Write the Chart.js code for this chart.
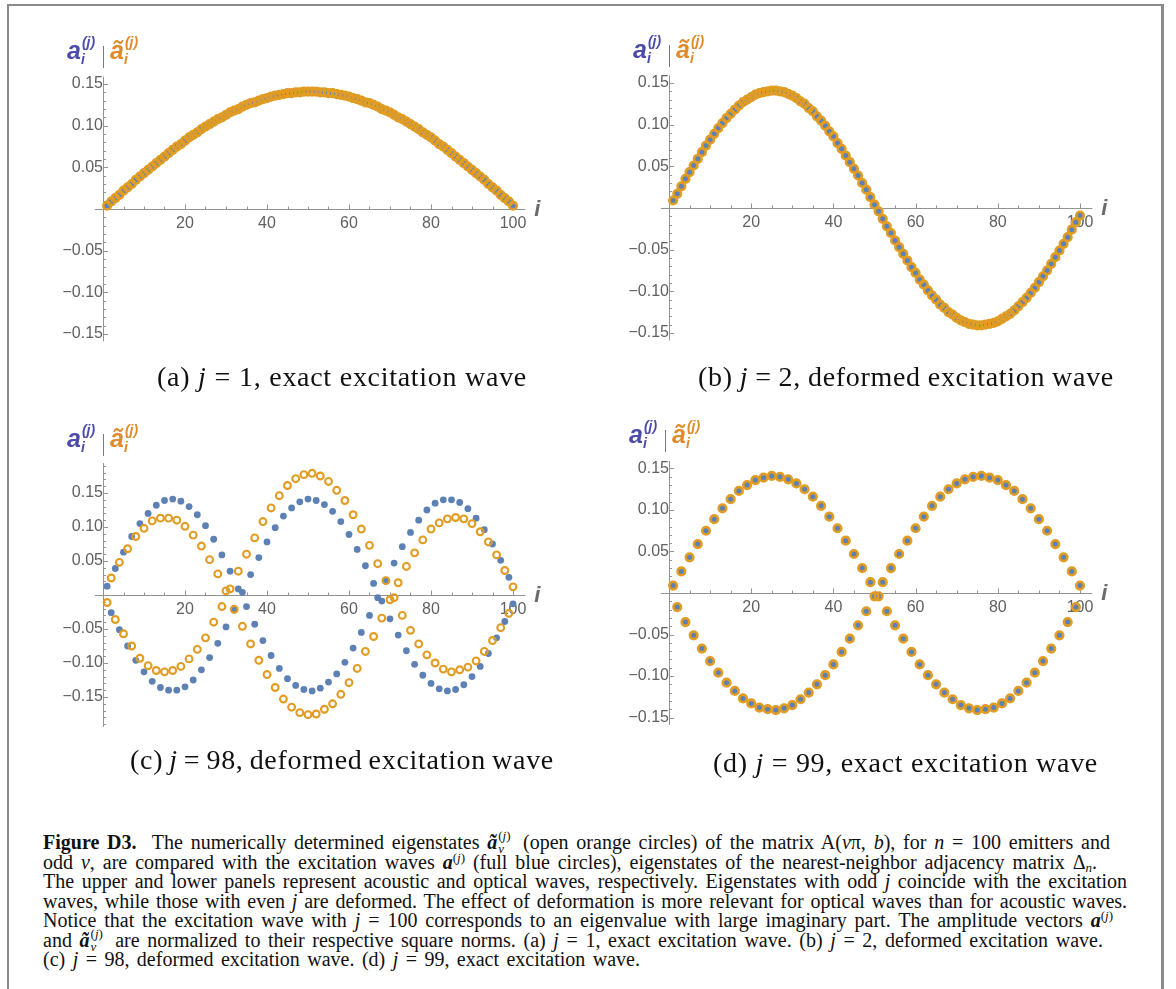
<!DOCTYPE html>
<html>
<head>
<meta charset="utf-8">
<script src="https://cdn.jsdelivr.net/npm/chart.js@4.4.1/dist/chart.umd.min.js"></script>
<style>
  html, body { margin: 0; padding: 0; background: #fff; }
  #fig { position: relative; width: 1176px; height: 989px; overflow: hidden; background: #fff; }
  #frame { position: absolute; left: 7px; top: 4px; width: 1152px; height: 1010px;
           border: 2px solid #8a8a8a; border-bottom: none; border-right-width: 3px; }
  canvas { position: absolute; }
  .hdr { position: absolute; height: 30px; width: 90px;
         font: bold italic 25px "Liberation Sans", Arial, sans-serif; line-height: 24px; white-space: nowrap; }
  .hdr .part { position: absolute; top: 0; }
  .hdr .blue { left: 0; color: #4b4bab; }
  .hdr .orng { left: 43px; color: #e08a2b; }
  .hdr .bar { position: absolute; left: 36px; top: 8px; width: 1px; height: 22px; background: #7a7a7a; }
  .scr { position: relative; display: inline-block; width: 15px; height: 0; }
  .scr span { position: absolute; left: 0; font-size: 14px; line-height: 14px; }
  .scr .up { bottom: 10px; left: 1px; }
  .scr .dn { bottom: -7px; }
  .fit { position: absolute; white-space: nowrap; color: #111; }
  .sub { font: 28px "Liberation Serif", "Times New Roman", serif; line-height: 30px; letter-spacing: 0.7px; }
  .cap { font: 20px "Liberation Serif", "Times New Roman", serif; line-height: 20px; }
  .cap sup, .cap sub { font-size: 13px; line-height: 0; }
  .cap sup { vertical-align: 7px; }
  .cap sub { vertical-align: -3px; }
  .ss { position: relative; display: inline-block; width: 18px; height: 0; }
  .ss span { position: absolute; left: 1px; font-size: 13px; line-height: 13px; }
  .ss .u { bottom: 7px; }
  .ss .d { bottom: -6px; }
</style>
</head>
<body>
<div id="fig">
  <div id="frame"></div>

  <canvas id="pa"></canvas>
  <canvas id="pb"></canvas>
  <canvas id="pc"></canvas>
  <canvas id="pd"></canvas>

  <div class="fit sub" data-x="157" data-w="370" style="top:362px"><span class="t">(a) <i>j</i> = 1, exact excitation wave</span></div>
  <div class="fit sub" data-x="698" data-w="416" style="top:362px"><span class="t">(b) <i>j</i> = 2, deformed excitation wave</span></div>
  <div class="fit sub" data-x="130" data-w="424" style="top:745px"><span class="t">(c) <i>j</i> = 98, deformed excitation wave</span></div>
  <div class="fit sub" data-x="713" data-w="385" style="top:748px"><span class="t">(d) <i>j</i> = 99, exact excitation wave</span></div>

  <div class="fit cap" data-x="43" data-w="1067" style="top:832px"><span class="t"><b>Figure D3.</b>&nbsp; The numerically determined eigenstates <b><i>ã</i></b><span class="ss"><span class="u">(<i>j</i>)</span><span class="d"><i>ν</i></span></span> (open orange circles) of the matrix A(<i>ν</i>π, <i>b</i>), for <i>n</i> = 100 emitters and</span></div>
  <div class="fit cap" data-x="43" data-w="1054" style="top:852px"><span class="t">odd <i>ν</i>, are compared with the excitation waves <b><i>a</i></b><sup>(<i>j</i>)</sup> (full blue circles), eigenstates of the nearest-neighbor adjacency matrix Δ<sub><i>n</i></sub>.</span></div>
  <div class="fit cap" data-x="43" data-w="1084" style="top:871px"><span class="t">The upper and lower panels represent acoustic and optical waves, respectively. Eigenstates with odd <i>j</i> coincide with the excitation</span></div>
  <div class="fit cap" data-x="43" data-w="1084" style="top:891px"><span class="t">waves, while those with even <i>j</i> are deformed. The effect of deformation is more relevant for optical waves than for acoustic waves.</span></div>
  <div class="fit cap" data-x="43" data-w="1070" style="top:910px"><span class="t">Notice that the excitation wave with <i>j</i> = 100 corresponds to an eigenvalue with large imaginary part. The amplitude vectors <b><i>a</i></b><sup>(<i>j</i>)</sup></span></div>
  <div class="fit cap" data-x="43" data-w="1060" style="top:930px"><span class="t">and <b><i>ã</i></b><span class="ss"><span class="u">(<i>j</i>)</span><span class="d"><i>ν</i></span></span> are normalized to their respective square norms. (a) <i>j</i> = 1, exact excitation wave. (b) <i>j</i> = 2, deformed excitation wave.</span></div>
  <div class="fit cap" data-x="43" data-w="597" style="top:949px"><span class="t">(c) <i>j</i> = 98, deformed excitation wave. (d) <i>j</i> = 99, exact excitation wave.</span></div>
</div>

<script>
// site index i = 1..100
const sites = [
  1, 2, 3, 4, 5, 6, 7, 8, 9, 10, 11, 12, 13, 14, 15, 16, 17, 18, 19, 20,
  21, 22, 23, 24, 25, 26, 27, 28, 29, 30, 31, 32, 33, 34, 35, 36, 37, 38, 39, 40,
  41, 42, 43, 44, 45, 46, 47, 48, 49, 50, 51, 52, 53, 54, 55, 56, 57, 58, 59, 60,
  61, 62, 63, 64, 65, 66, 67, 68, 69, 70, 71, 72, 73, 74, 75, 76, 77, 78, 79, 80,
  81, 82, 83, 84, 85, 86, 87, 88, 89, 90, 91, 92, 93, 94, 95, 96, 97, 98, 99, 100
];

// j = 1 (acoustic, exact: both sets coincide)
const waveJ1 = [
  0.004, 0.009, 0.013, 0.017, 0.022, 0.026, 0.030, 0.035, 0.039, 0.043,
  0.047, 0.051, 0.055, 0.059, 0.063, 0.067, 0.071, 0.075, 0.078, 0.082,
  0.086, 0.089, 0.092, 0.096, 0.099, 0.102, 0.105, 0.108, 0.110, 0.113,
  0.116, 0.118, 0.120, 0.123, 0.125, 0.127, 0.128, 0.130, 0.132, 0.133,
  0.135, 0.136, 0.137, 0.138, 0.139, 0.139, 0.140, 0.140, 0.141, 0.141,
  0.141, 0.141, 0.140, 0.140, 0.139, 0.139, 0.138, 0.137, 0.136, 0.135,
  0.133, 0.132, 0.130, 0.128, 0.127, 0.125, 0.123, 0.120, 0.118, 0.116,
  0.113, 0.110, 0.108, 0.105, 0.102, 0.099, 0.096, 0.092, 0.089, 0.086,
  0.082, 0.078, 0.075, 0.071, 0.067, 0.063, 0.059, 0.055, 0.051, 0.047,
  0.043, 0.039, 0.035, 0.030, 0.026, 0.022, 0.017, 0.013, 0.009, 0.004
];

// j = 2 (acoustic)
const waveJ2 = [
  0.009, 0.017, 0.026, 0.035, 0.043, 0.051, 0.059, 0.067, 0.075, 0.082,
  0.089, 0.096, 0.102, 0.108, 0.113, 0.118, 0.123, 0.127, 0.130, 0.133,
  0.136, 0.138, 0.139, 0.140, 0.141, 0.141, 0.140, 0.139, 0.137, 0.135,
  0.132, 0.128, 0.125, 0.120, 0.116, 0.110, 0.105, 0.099, 0.092, 0.086,
  0.078, 0.071, 0.063, 0.055, 0.047, 0.039, 0.030, 0.022, 0.013, 0.004,
  -0.004, -0.013, -0.022, -0.030, -0.039, -0.047, -0.055, -0.063, -0.071, -0.078,
  -0.086, -0.092, -0.099, -0.105, -0.110, -0.116, -0.120, -0.125, -0.128, -0.132,
  -0.135, -0.137, -0.139, -0.140, -0.141, -0.141, -0.140, -0.139, -0.138, -0.136,
  -0.133, -0.130, -0.127, -0.123, -0.118, -0.113, -0.108, -0.102, -0.096, -0.089,
  -0.082, -0.075, -0.067, -0.059, -0.051, -0.043, -0.035, -0.026, -0.017, -0.009
];

// j = 98 (optical): excitation wave and deformed eigenstate
const waveJ98 = [
  0.013, -0.026, 0.039, -0.051, 0.063, -0.075, 0.086, -0.096, 0.105, -0.113,
  0.120, -0.127, 0.132, -0.136, 0.139, -0.140, 0.141, -0.140, 0.138, -0.135,
  0.130, -0.125, 0.118, -0.110, 0.102, -0.092, 0.082, -0.071, 0.059, -0.047,
  0.035, -0.022, 0.009, 0.004, -0.017, 0.030, -0.043, 0.055, -0.067, 0.078,
  -0.089, 0.099, -0.108, 0.116, -0.123, 0.128, -0.133, 0.137, -0.139, 0.141,
  -0.141, 0.139, -0.137, 0.133, -0.128, 0.123, -0.116, 0.108, -0.099, 0.089,
  -0.078, 0.067, -0.055, 0.043, -0.030, 0.017, -0.004, -0.009, 0.022, -0.035,
  0.047, -0.059, 0.071, -0.082, 0.092, -0.102, 0.110, -0.118, 0.125, -0.130,
  0.135, -0.138, 0.140, -0.141, 0.140, -0.139, 0.136, -0.132, 0.127, -0.120,
  0.113, -0.105, 0.096, -0.086, 0.075, -0.063, 0.051, -0.039, 0.026, -0.013
];
const eigenJ98 = [
  -0.011, 0.025, -0.036, 0.048, -0.057, 0.068, -0.075, 0.086, -0.093, 0.098,
  -0.104, 0.109, -0.111, 0.113, -0.113, 0.113, -0.111, 0.110, -0.105, 0.101,
  -0.094, 0.088, -0.080, 0.072, -0.063, 0.052, -0.040, 0.031, -0.017, 0.006,
  0.009, -0.021, 0.035, -0.046, 0.060, -0.072, 0.084, -0.096, 0.108, -0.117,
  0.128, -0.136, 0.146, -0.153, 0.161, -0.165, 0.171, -0.173, 0.177, -0.176,
  0.179, -0.175, 0.175, -0.168, 0.167, -0.160, 0.154, -0.146, 0.139, -0.129,
  0.118, -0.108, 0.097, -0.083, 0.073, -0.061, 0.046, -0.034, 0.021, -0.007,
  -0.004, 0.018, -0.030, 0.042, -0.052, 0.062, -0.072, 0.081, -0.088, 0.097,
  -0.100, 0.106, -0.109, 0.112, -0.113, 0.114, -0.110, 0.112, -0.106, 0.105,
  -0.097, 0.093, -0.083, 0.078, -0.067, 0.059, -0.048, 0.036, -0.027, 0.012
];

// j = 99 (optical, exact: both sets coincide)
const waveJ99 = [
  0.009, -0.017, 0.026, -0.035, 0.043, -0.051, 0.059, -0.067, 0.075, -0.082,
  0.089, -0.096, 0.102, -0.108, 0.113, -0.118, 0.123, -0.127, 0.130, -0.133,
  0.136, -0.138, 0.139, -0.140, 0.141, -0.141, 0.140, -0.139, 0.137, -0.135,
  0.132, -0.128, 0.125, -0.120, 0.116, -0.110, 0.105, -0.099, 0.092, -0.086,
  0.078, -0.071, 0.063, -0.055, 0.047, -0.039, 0.030, -0.022, 0.013, -0.004,
  -0.004, 0.013, -0.022, 0.030, -0.039, 0.047, -0.055, 0.063, -0.071, 0.078,
  -0.086, 0.092, -0.099, 0.105, -0.110, 0.116, -0.120, 0.125, -0.128, 0.132,
  -0.135, 0.137, -0.139, 0.140, -0.141, 0.141, -0.140, 0.139, -0.138, 0.136,
  -0.133, 0.130, -0.127, 0.123, -0.118, 0.113, -0.108, 0.102, -0.096, 0.089,
  -0.082, 0.075, -0.067, 0.059, -0.051, 0.043, -0.035, 0.026, -0.017, 0.009
];

const xTicks = [20, 40, 60, 80, 100];
const yTicks = [-0.15, -0.10, -0.05, 0.05, 0.10, 0.15];

const BLUE = '#5e81b5';
const ORANGE = '#e19c24';
const AXIS = '#939393';

// axes crossing at the origin, with minor ticks and the "i" label
const crossAxes = {
  id: 'crossAxes',
  beforeDatasetsDraw(chart, args, opts) {
    const { ctx, chartArea: a, scales: { x, y } } = chart;
    const x0 = Math.round(x.getPixelForValue(0)) + 0.5;
    const y0 = Math.round(y.getPixelForValue(0)) + 0.5;
    ctx.save();
    ctx.strokeStyle = AXIS;
    ctx.lineWidth = 1;
    ctx.beginPath();
    ctx.moveTo(a.left, y0); ctx.lineTo(a.right, y0);
    ctx.moveTo(x0, a.top); ctx.lineTo(x0, a.bottom);
    for (let v = 5; v <= 100; v += 5) {
      const px = Math.round(x.getPixelForValue(v)) + 0.5;
      ctx.moveTo(px, y0); ctx.lineTo(px, y0 - (v % 20 === 0 ? 5 : 3));
    }
    for (let k = -opts.tickMax; k <= opts.tickMax; k++) {
      if (k === 0) continue;
      const py = Math.round(y.getPixelForValue(k / 100)) + 0.5;
      ctx.moveTo(x0, py); ctx.lineTo(x0 + (k % 5 === 0 ? 4.5 : 2.5), py);
    }
    ctx.stroke();
    ctx.fillStyle = '#6b6b6b';
    ctx.font = 'italic bold 22px "Liberation Sans", Arial, sans-serif';
    ctx.textBaseline = 'middle';
    ctx.fillText('i', a.right + 9, y0);
    ctx.restore();
  }
};

function points(values) {
  return sites.map((s, k) => ({ x: s, y: values[k] }));
}

function makePanel(p) {
  const xMin = -2, xMax = 103;
  const caL = p.ox + xMin * p.sx, caR = p.ox + xMax * p.sx;
  const caT = p.oy - p.ylim * p.sy, caB = p.oy + p.ylim * p.sy;
  const left = Math.round(caL - 45), top = Math.round(caT - 40);
  const width = Math.ceil(caR + 60 - left), height = Math.ceil(caB + 40 - top);
  const cv = document.getElementById(p.id);
  cv.width = width; cv.height = height;
  cv.style.left = left + 'px'; cv.style.top = top + 'px';

  const tickFont = { family: '"Liberation Sans", Arial, sans-serif', size: 16 };
  return new Chart(cv.getContext('2d'), {
    type: 'scatter',
    data: {
      datasets: [
        {
          label: 'eigenstate',
          data: points(p.orange),
          pointRadius: p.ring[0],
          pointBorderWidth: p.ring[1],
          pointBorderColor: ORANGE,
          pointBackgroundColor: 'rgba(0,0,0,0)'
        },
        {
          label: 'excitation wave',
          data: points(p.blue),
          pointRadius: 3.4,
          pointBorderWidth: 0,
          pointBackgroundColor: BLUE
        }
      ]
    },
    options: {
      responsive: false,
      animation: false,
      events: [],
      layout: { padding: { left: caL - left, right: left + width - caR, top: caT - top, bottom: top + height - caB } },
      plugins: {
        legend: { display: false },
        tooltip: { enabled: false },
        crossAxes: { tickMax: p.tickMax }
      },
      scales: {
        x: {
          type: 'linear', min: xMin, max: xMax,
          position: { y: 0 },
          grid: { display: false, drawTicks: false },
          border: { display: false },
          afterBuildTicks: s => { s.ticks = xTicks.map(v => ({ value: v })); },
          ticks: { color: '#616161', font: tickFont, padding: 5, maxRotation: 0, autoSkip: false }
        },
        y: {
          type: 'linear', min: -p.ylim, max: p.ylim,
          position: { x: 0 },
          grid: { display: false, drawTicks: false },
          border: { display: false },
          afterBuildTicks: s => { s.ticks = yTicks.map(v => ({ value: v })); },
          ticks: {
            color: '#616161', font: tickFont, padding: 4, autoSkip: false,
            callback: v => (v < 0 ? '\u2212' : '') + Math.abs(v).toFixed(2)
          }
        }
      }
    },
    plugins: [crossAxes]
  });
}

[
  { id: 'pa', blue: waveJ1, orange: waveJ1, ox: 103, oy: 209, sx: 4.1, sy: 833, ylim: 0.159, tickMax: 15, ring: [3.8, 2.6] },
  { id: 'pb', blue: waveJ2, orange: waveJ2, ox: 669, oy: 208, sx: 4.11, sy: 833, ylim: 0.159, tickMax: 15, ring: [3.8, 2.6] },
  { id: 'pc', blue: waveJ98, orange: eigenJ98, ox: 103, oy: 595, sx: 4.1, sy: 680, ylim: 0.194, tickMax: 19, ring: [3.4, 2.1] },
  { id: 'pd', blue: waveJ99, orange: waveJ99, ox: 669, oy: 593, sx: 4.11, sy: 830, ylim: 0.159, tickMax: 15, ring: [3.8, 2.6] }
].forEach(makePanel);

// "a_i^(j) | ã_i^(j)" headers above each panel
function header(left, baseline) {
  const el = document.createElement('div');
  el.className = 'hdr';
  el.style.left = left + 'px';
  el.style.top = (baseline - 20.3) + 'px';
  const scripts = '<span class="scr"><span class="up">(j)</span><span class="dn">i</span></span>';
  el.innerHTML = '<span class="part blue">a' + scripts + '</span>' +
                 '<span class="bar"></span>' +
                 '<span class="part orng">ã' + scripts + '</span>';
  document.getElementById('fig').appendChild(el);
}
header(67, 58);
header(633, 57);
header(67, 446);
header(629, 442);

// stretch word gaps so each text line spans its width
function fitLines() {
  document.querySelectorAll('.fit').forEach(el => {
    el.style.left = el.dataset.x + 'px';
    const span = el.querySelector('.t');
    span.style.wordSpacing = '';
    const gaps = (span.textContent.match(/[ \u00a0]/g) || []).length;
    const natural = span.getBoundingClientRect().width;
    if (gaps) span.style.wordSpacing = ((+el.dataset.w - natural) / gaps).toFixed(2) + 'px';
  });
}
fitLines();
if (document.fonts) document.fonts.ready.then(fitLines);
</script>
</body>
</html>
